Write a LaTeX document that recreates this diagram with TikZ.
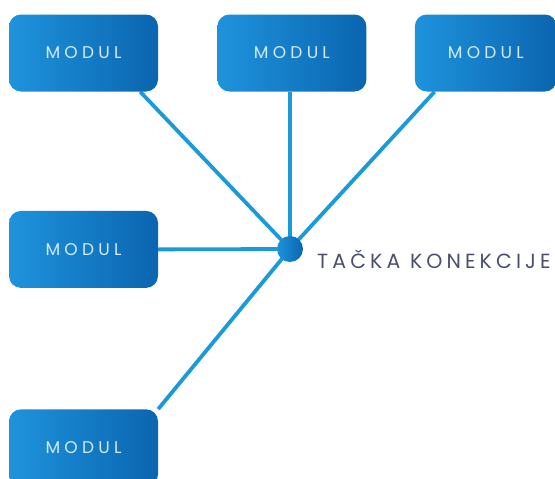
\documentclass[tikz,border=0pt]{standalone}
\usepackage{fontspec}
\setmainfont{Poppins}
\newfontfamily\modfont{Poppins}[LetterSpace=25]
\newfontfamily\tackafont{Poppins}[LetterSpace=20]
\usetikzlibrary{positioning, calc, backgrounds}

\definecolor{boxlight}{HTML}{1E93DC}
\definecolor{boxdark}{HTML}{0B65B0}
\definecolor{linkblue}{HTML}{1A9AD8}
\definecolor{modtext}{HTML}{D3EAF8}
\definecolor{labeltext}{HTML}{4A4F6E}

\begin{document}
\begin{tikzpicture}[
  x=1pt, y=-1pt,
  modbox/.style={rounded corners=12pt, left color=boxlight, right color=boxdark,
    minimum width=149pt, minimum height=77pt, inner sep=0pt,
    text=modtext, font=\modfont\fontsize{17}{17}\selectfont},
  link/.style={draw=linkblue, line width=3.8pt},
  hubdot/.style={circle, minimum size=26pt, inner sep=0pt,
    left color=boxlight, right color=boxdark},
]
  \useasboundingbox (0,0) rectangle (555,479);

  % modules
  \node[modbox] (m1) at (83.5,53) {MODUL};
  \node[modbox, right=59pt of m1] (m2) {MODUL};
  \node[modbox, right=48pt of m2, minimum width=142pt] (m3) {MODUL};
  \node[modbox, below=119pt of m1] (m4) {MODUL};
  \node[modbox, below=121pt of m4] (m5) {MODUL};

  % connection point
  \node[hubdot] (hub) at (290,249) {};
  \node[anchor=base west, inner sep=0pt, text=labeltext,
    font=\tackafont\fontsize{20.5}{20.5}\selectfont] (lbl) at (317,268) {TA\v{C}KA KONEKCIJE};

  \begin{scope}[on background layer]
    \draw[link] (hub.center) -- ($(m1.south east)+(-18,0)$);
    \draw[link] (hub.center) -- (hub.center |- m2.south);
    \draw[link] (hub.center) -- ($(m3.south west)+(20,0)$);
    \draw[link] (hub.center) -- (m4.east);
    \draw[link] (hub.center) -- (m5.north east);
  \end{scope}
\end{tikzpicture}
\end{document}
